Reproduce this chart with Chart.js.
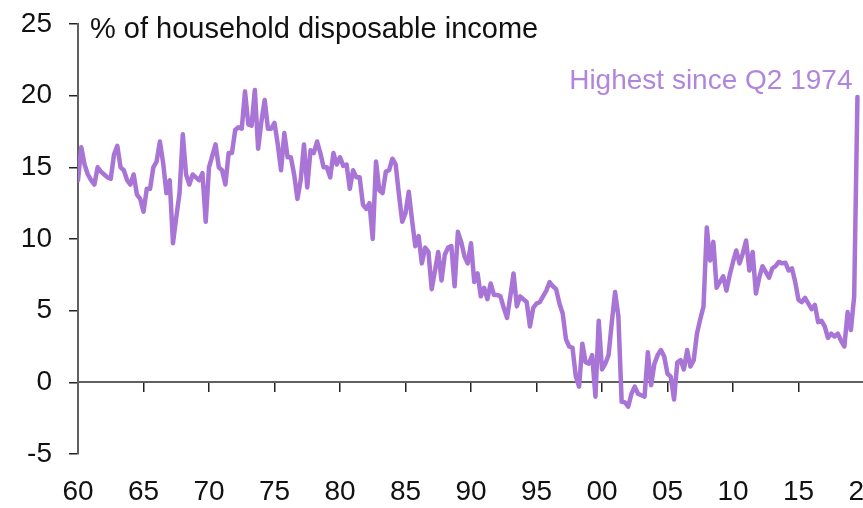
<!DOCTYPE html>
<html>
<head>
<meta charset="utf-8">
<script src="https://cdn.jsdelivr.net/npm/chart.js@4/dist/chart.umd.min.js"></script>
<style>
  html, body { margin: 0; padding: 0; background: #fff; overflow: hidden; width: 863px; height: 508px; }
  canvas { display: block; }
</style>
</head>
<body>
<canvas id="chart" width="884" height="508"></canvas>
<script>
// Household saving ratio, quarterly, % of household disposable income
const yearTicks = ['60', '65', '70', '75', '80', '85', '90', '95', '00', '05', '10', '15', '20'];
const quartersPerTick = 20;

const savingRatio = [
  14.1, 16.4, 15.2, 14.5, 14.1, 13.8, 15.0, 14.7, 14.5, 14.3,
  14.2, 15.9, 16.5, 15.0, 14.8, 14.1, 13.8, 14.5, 13.1, 12.8,
  11.9, 13.5, 13.5, 15.0, 15.4, 16.8, 15.3, 13.2, 14.1, 9.7,
  11.5, 13.2, 17.3, 14.5, 13.8, 14.5, 14.3, 14.1, 14.6, 11.2,
  15.0, 15.8, 16.6, 15.0, 14.8, 13.8, 16.0, 16.0, 17.6, 17.8,
  17.7, 20.3, 18.0, 17.9, 20.4, 16.3, 18.2, 19.7, 17.7, 17.7,
  18.1, 16.6, 14.8, 17.4, 15.7, 15.7, 14.5, 12.8, 14.1, 16.6,
  13.6, 16.2, 16.0, 16.8, 16.0, 15.0, 15.0, 14.3, 16.0, 15.2,
  15.7, 15.1, 15.2, 13.5, 14.8, 14.3, 14.3, 12.4, 12.1, 12.5,
  10.0, 15.4, 13.4, 13.2, 14.7, 14.8, 15.6, 15.2, 13.1, 11.2,
  11.8, 13.3, 11.3, 9.5, 10.2, 8.3, 9.4, 9.1, 6.5, 7.8,
  9.1, 7.1, 8.9, 9.4, 9.5, 6.7, 10.5, 9.8, 8.8, 8.3,
  9.7, 7.0, 7.6, 6.0, 6.6, 5.8, 6.9, 6.1, 6.1, 6.0,
  5.2, 4.5, 6.0, 7.6, 5.3, 6.0, 5.8, 5.6, 3.9, 5.2,
  5.5, 5.6, 6.0, 6.4, 7.0, 6.7, 6.5, 5.5, 4.8, 3.0,
  2.5, 2.4, 0.4, -0.3, 2.7, 1.4, 1.3, 1.9, -1.0, 4.3,
  0.9, 1.3, 1.9, 4.2, 6.3, 4.6, -1.35, -1.4, -1.7, -0.8,
  -0.3, -0.8, -0.9, -1.0, 2.1, -0.2, 1.3, 1.9, 2.25, 1.8,
  0.6, 0.4, -1.2, 1.4, 1.55, 0.9, 2.25, 1.1, 1.55, 3.4,
  4.4, 5.3, 10.8, 8.5, 9.8, 6.6, 7.0, 7.4, 6.4, 7.5,
  8.4, 9.2, 8.3, 9.0, 9.9, 7.8, 9.1, 6.2, 7.3, 8.1,
  7.7, 7.3, 7.95, 8.1, 8.4, 8.3, 8.35, 7.8, 7.95, 7.0,
  5.75, 5.6, 5.9, 5.5, 5.1, 5.4, 4.2, 4.3, 3.9, 3.1,
  3.4, 3.2, 3.4, 2.9, 2.5, 4.9, 3.65, 6.0, 19.9
];

const titleText = '% of household disposable income';
const noteText = 'Highest since Q2 1974';

const lineColour = '#a874d6';
const noteColour = '#b285dc';
const axisColour = '#606060';
const textColour = '#111111';
const fontFamily = '"Liberation Sans", Arial, sans-serif';

const points = savingRatio.map((v, i) => ({ x: i, y: v }));

// Axis caption and end-of-series note
const chartText = {
  id: 'chartText',
  afterDraw(chart) {
    const { ctx, chartArea, scales } = chart;
    const x = scales.x, y = scales.y;
    ctx.save();
    ctx.textBaseline = 'alphabetic';
    ctx.font = '29px ' + fontFamily;
    ctx.fillStyle = textColour;
    ctx.textAlign = 'left';
    ctx.fillText(titleText, chartArea.left + 12, y.getPixelForValue(24));
    ctx.font = '28px ' + fontFamily;
    ctx.fillStyle = noteColour;
    ctx.textAlign = 'right';
    ctx.fillText(noteText, x.getPixelForValue(savingRatio.length - 1) - 5, y.getPixelForValue(20.5));
    ctx.restore();
  }
};

new Chart(document.getElementById('chart'), {
  type: 'line',
  data: {
    datasets: [{
      data: points,
      borderColor: lineColour,
      borderWidth: 4.5,
      borderJoinStyle: 'round',
      borderCapStyle: 'round',
      pointRadius: 0,
      tension: 0,
      fill: false
    }]
  },
  options: {
    responsive: false,
    animation: false,
    devicePixelRatio: 1,
    layout: { padding: { left: 0, right: 20, top: 24, bottom: 54 } },
    plugins: { legend: { display: false }, tooltip: { enabled: false } },
    scales: {
      x: {
        type: 'linear',
        min: 0,
        max: quartersPerTick * (yearTicks.length - 1),
        position: { y: 0 },
        border: { display: true, color: axisColour, width: 2 },
        grid: { drawOnChartArea: false, drawTicks: true, tickLength: 9, color: '#222', lineWidth: 1.5 },
        ticks: {
          stepSize: quartersPerTick,
          autoSkip: false,
          maxRotation: 0,
          padding: 84,
          color: textColour,
          font: { family: fontFamily, size: 28 },
          callback: (v) => yearTicks[Math.round(v / quartersPerTick)]
        },
        afterFit(scale) { scale.paddingLeft = 0; scale.paddingRight = 0; }
      },
      y: {
        min: -5,
        max: 25,
        border: { display: true, color: axisColour, width: 2 },
        grid: { drawOnChartArea: false, drawTicks: true, tickLength: 9, color: '#222', lineWidth: 1.5 },
        ticks: {
          stepSize: 5,
          padding: 17,
          color: textColour,
          font: { family: fontFamily, size: 28 }
        },
        afterFit(scale) { scale.width = 78; scale.paddingTop = 0; scale.paddingBottom = 0; }
      }
    }
  },
  plugins: [chartText]
});
</script>
</body>
</html>
